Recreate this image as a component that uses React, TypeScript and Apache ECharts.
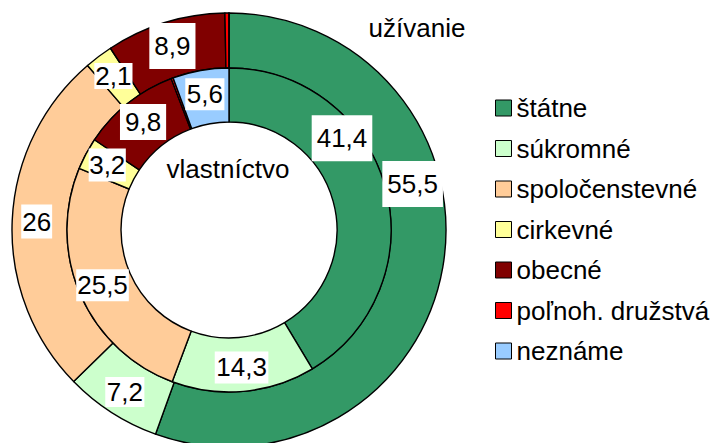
import React, { useEffect, useRef } from "react";
import * as echarts from "echarts";

const categories = ["štátne", "súkromné", "spoločenstevné", "cirkevné", "obecné", "poľnoh. družstvá", "neznáme"];
const colors = ["#339966", "#CCFFCC", "#FFCC99", "#FFFF99", "#800000", "#FF0000", "#99CCFF"];
const uzivanieValues = [55.5, 7.2, 26, 2.1, 8.9, 0.3, 0];
const vlastnictvoValues = [41.4, 14.3, 25.5, 3.2, 9.8, 0.2, 5.6];
const outerTitle = "užívanie";
const innerTitle = "vlastníctvo";

const FONT = "'Liberation Sans', Arial, sans-serif";

// label box paddings (style only)
const outerPadding = [[10, 5], [2, 1.5], [4, 1], [0, 1], [10, 5], [0, 0], [0, 0]];
const innerPadding = [[10, 5], [3, 1.5], [3, 1], [3.5, 0.5], [5, 5], [0, 0], [3, 1.5]];

function buildData(values: number[], paddings: number[][]) {
  return values.map((v, i) => ({
    name: categories[i],
    value: v,
    itemStyle: { color: colors[i] },
    label: { show: v >= 1, padding: paddings[i] },
  }));
}

const labelStyle = {
  show: true,
  position: "inside" as const,
  formatter: (p: any) => String(p.value).replace(".", ","),
  color: "#000",
  fontSize: 26,
  fontFamily: FONT,
  backgroundColor: "#fff",
  padding: [10, 5],
};

export default function App() {
  const ref = useRef<HTMLDivElement>(null);
  useEffect(() => {
    if (!ref.current) return;
    const chart = echarts.init(ref.current, null, { renderer: "svg" });
    chart.setOption({
      animation: false,
      backgroundColor: "#fff",
      legend: {
        orient: "vertical",
        left: 490,
        top: 90,
        icon: "rect",
        itemWidth: 16,
        itemHeight: 16,
        itemGap: 14.5,
        data: categories,
        itemStyle: { borderColor: "#000", borderWidth: 1 },
        textStyle: { fontSize: 26, fontFamily: FONT, color: "#000" },
      },
      graphic: [
        {
          type: "text",
          x: 417,
          y: 28,
          style: { text: outerTitle, fontSize: 26, fontFamily: FONT, fill: "#000", textAlign: "center", textVerticalAlign: "middle" },
        },
        {
          type: "text",
          x: 228,
          y: 169,
          z: 100,
          style: { text: innerTitle, fontSize: 26, fontFamily: FONT, fill: "#000", textAlign: "center", textVerticalAlign: "middle" },
        },
      ],
      series: [
        {
          name: outerTitle,
          type: "pie",
          center: [229, 230],
          radius: [162, 217],
          startAngle: 90,
          clockwise: true,
          avoidLabelOverlap: false,
          itemStyle: { borderColor: "#000", borderWidth: 1.4 },
          label: labelStyle,
          labelLine: { show: false },
          labelLayout: (p: any) => (p.dataIndex === 0 ? { dx: -6, dy: -79 } : {}),
          emphasis: { disabled: true },
          data: buildData(uzivanieValues, outerPadding),
        },
        {
          name: innerTitle,
          type: "pie",
          center: [229, 230],
          radius: [108, 162],
          startAngle: 90,
          clockwise: true,
          avoidLabelOverlap: false,
          itemStyle: { borderColor: "#000", borderWidth: 1.4 },
          label: labelStyle,
          labelLine: { show: false },
          labelLayout: (p: any) => (p.dataIndex === 0 ? { dx: -20, dy: -55 } : {}),
          emphasis: { disabled: true },
          data: buildData(vlastnictvoValues, innerPadding),
        },
      ],
    });
    return () => chart.dispose();
  }, []);
  return <div ref={ref} style={{ position: "fixed", left: 0, top: 0, width: 715, height: 443 }} />;
}
